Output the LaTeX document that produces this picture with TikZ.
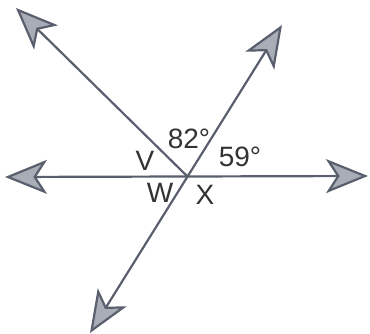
\documentclass[tikz,border=0pt]{standalone}
\usepackage{fontspec}
\setmainfont{Liberation Sans}
\usetikzlibrary{arrows.meta}
\definecolor{rayline}{HTML}{5A5F6E}
\definecolor{tipfill}{HTML}{A9ADB8}

\begin{document}
\begin{tikzpicture}[x=1pt, y=-1pt,
  ray/.style={line width=2.2pt, rayline, -{Stealth[length=42pt, width=34pt, inset=11pt, fill=tipfill]}},
  bothray/.style={line width=2.2pt, rayline, {Stealth[length=42pt, width=34pt, inset=11pt, fill=tipfill]}-{Stealth[length=42pt, width=34pt, inset=11pt, fill=tipfill]}},
  lbl/.style={inner sep=0pt, font=\fontsize{28}{30}\selectfont, text=black!80}
]
  \useasboundingbox (0,0) rectangle (370,334);
  \coordinate (O) at (188,177);
  \coordinate (ul) at (16,8);
  \coordinate (ur) at (282,25);
  \coordinate (lf) at (5,177);
  \coordinate (rt) at (368,176);
  \coordinate (bl) at (90,333);

  \draw[bothray] (lf) -- (rt);
  \draw[ray] (O) -- (ul);
  \draw[bothray] (bl) -- (ur);

  \node[lbl] (a82) at (189,139) {82°};
  \node[lbl] (a59) at (240,157) {59°};
  \node[lbl] (v) at (145,161) {V};
  \node[lbl] (w) at (160,193) {W};
  \node[lbl] (x) at (205,195) {X};
\end{tikzpicture}
\end{document}
